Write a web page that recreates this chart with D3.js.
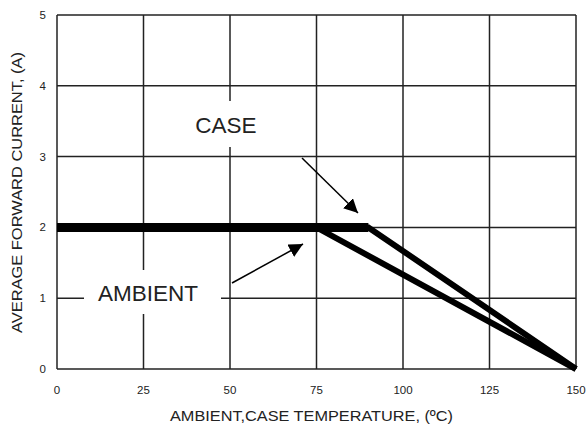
<!DOCTYPE html>
<html>
<head>
<script src="https://d3js.org/d3.v7.min.js"></script>
<style>
  body { margin: 0; background: #fff; }
  text { font-family: "Liberation Sans", Arial, sans-serif; fill: #222; }
</style>
</head>
<body>
<div id="viz"></div>
<script>
// data
const xTicks = [0, 25, 50, 75, 100, 125, 150];
const yTicks = [0, 1, 2, 3, 4, 5];
const caseTemp = [0, 90, 150];
const caseCurrent = [2, 2, 0];
const ambientTemp = [0, 75, 150];
const ambientCurrent = [2, 2, 0];

const width = 588, height = 425;
const pLeft = 57, pTop = 15, pRight = 576, pBottom = 369;

const svg = d3.select('#viz').append('svg')
    .attr('width', width).attr('height', height);

const x = d3.scaleLinear().domain([0, 150]).range([pLeft, pRight]);
const y = d3.scaleLinear().domain([0, 5]).range([pBottom, pTop]);

// grid
const grid = svg.append('g').attr('stroke', '#222').attr('stroke-width', 1.5);
grid.selectAll('.vx').data(xTicks).enter().append('line')
    .attr('x1', d => x(d)).attr('x2', d => x(d))
    .attr('y1', pTop).attr('y2', pBottom);
grid.selectAll('.hy').data(yTicks).enter().append('line')
    .attr('y1', d => y(d)).attr('y2', d => y(d))
    .attr('x1', pLeft).attr('x2', pRight);

// tick labels
svg.selectAll('.xt').data(xTicks).enter().append('text')
    .attr('x', d => x(d)).attr('y', 394)
    .attr('text-anchor', 'middle').attr('font-size', 11.5)
    .text(d => d);
svg.selectAll('.yt').data(yTicks).enter().append('text')
    .attr('x', 46).attr('y', d => y(d) + 4)
    .attr('text-anchor', 'end').attr('font-size', 11.5)
    .text(d => d);

// axis titles
svg.append('text')
    .attr('x', 170).attr('y', 421)
    .attr('font-size', 15.5).attr('textLength', 283).attr('lengthAdjust', 'spacingAndGlyphs')
    .text('AMBIENT,CASE TEMPERATURE, (ºC)');
svg.append('text')
    .attr('transform', 'translate(22,333) rotate(-90)')
    .attr('font-size', 15.5).attr('textLength', 281).attr('lengthAdjust', 'spacingAndGlyphs')
    .text('AVERAGE FORWARD CURRENT, (A)');

// curves
const line = d3.line().x(d => x(d[0])).y(d => y(d[1]));
const casePts = caseTemp.map((t, i) => [t, caseCurrent[i]]);
const ambPts = ambientTemp.map((t, i) => [t, ambientCurrent[i]]);

svg.append('path').attr('d', line(ambPts))
    .attr('fill', 'none').attr('stroke', '#000').attr('stroke-width', 6);
svg.append('path').attr('d', line(casePts))
    .attr('fill', 'none').attr('stroke', '#000').attr('stroke-width', 6);
// flat part drawn heavier
svg.append('path').attr('d', line(casePts.slice(0, 2)))
    .attr('fill', 'none').attr('stroke', '#000').attr('stroke-width', 9);

// labels with white backing
svg.append('rect').attr('x', 186).attr('y', 101).attr('width', 80).attr('height', 46).attr('fill', '#fff');
svg.append('text').attr('x', 226).attr('y', 133).attr('text-anchor', 'middle')
    .attr('font-size', 22.5).attr('fill', '#111').text('CASE');

svg.append('rect').attr('x', 84).attr('y', 270).attr('width', 137).attr('height', 44).attr('fill', '#fff');
svg.append('text').attr('x', 148).attr('y', 301).attr('text-anchor', 'middle')
    .attr('font-size', 22.5).attr('fill', '#111').text('AMBIENT');

// arrows
const defs = svg.append('defs');
defs.append('marker').attr('id', 'ah')
    .attr('viewBox', '0 0 10 10').attr('refX', 10).attr('refY', 5)
    .attr('markerWidth', 14).attr('markerHeight', 14).attr('markerUnits', 'userSpaceOnUse')
    .attr('orient', 'auto')
    .append('path').attr('d', 'M0,0 L10,5 L0,10 Z').attr('fill', '#000');

svg.append('line').attr('x1', 302).attr('y1', 158).attr('x2', 358).attr('y2', 213)
    .attr('stroke', '#000').attr('stroke-width', 1.5).attr('marker-end', 'url(#ah)');
svg.append('line').attr('x1', 232).attr('y1', 283).attr('x2', 303).attr('y2', 244)
    .attr('stroke', '#000').attr('stroke-width', 1.5).attr('marker-end', 'url(#ah)');
</script>
</body>
</html>
